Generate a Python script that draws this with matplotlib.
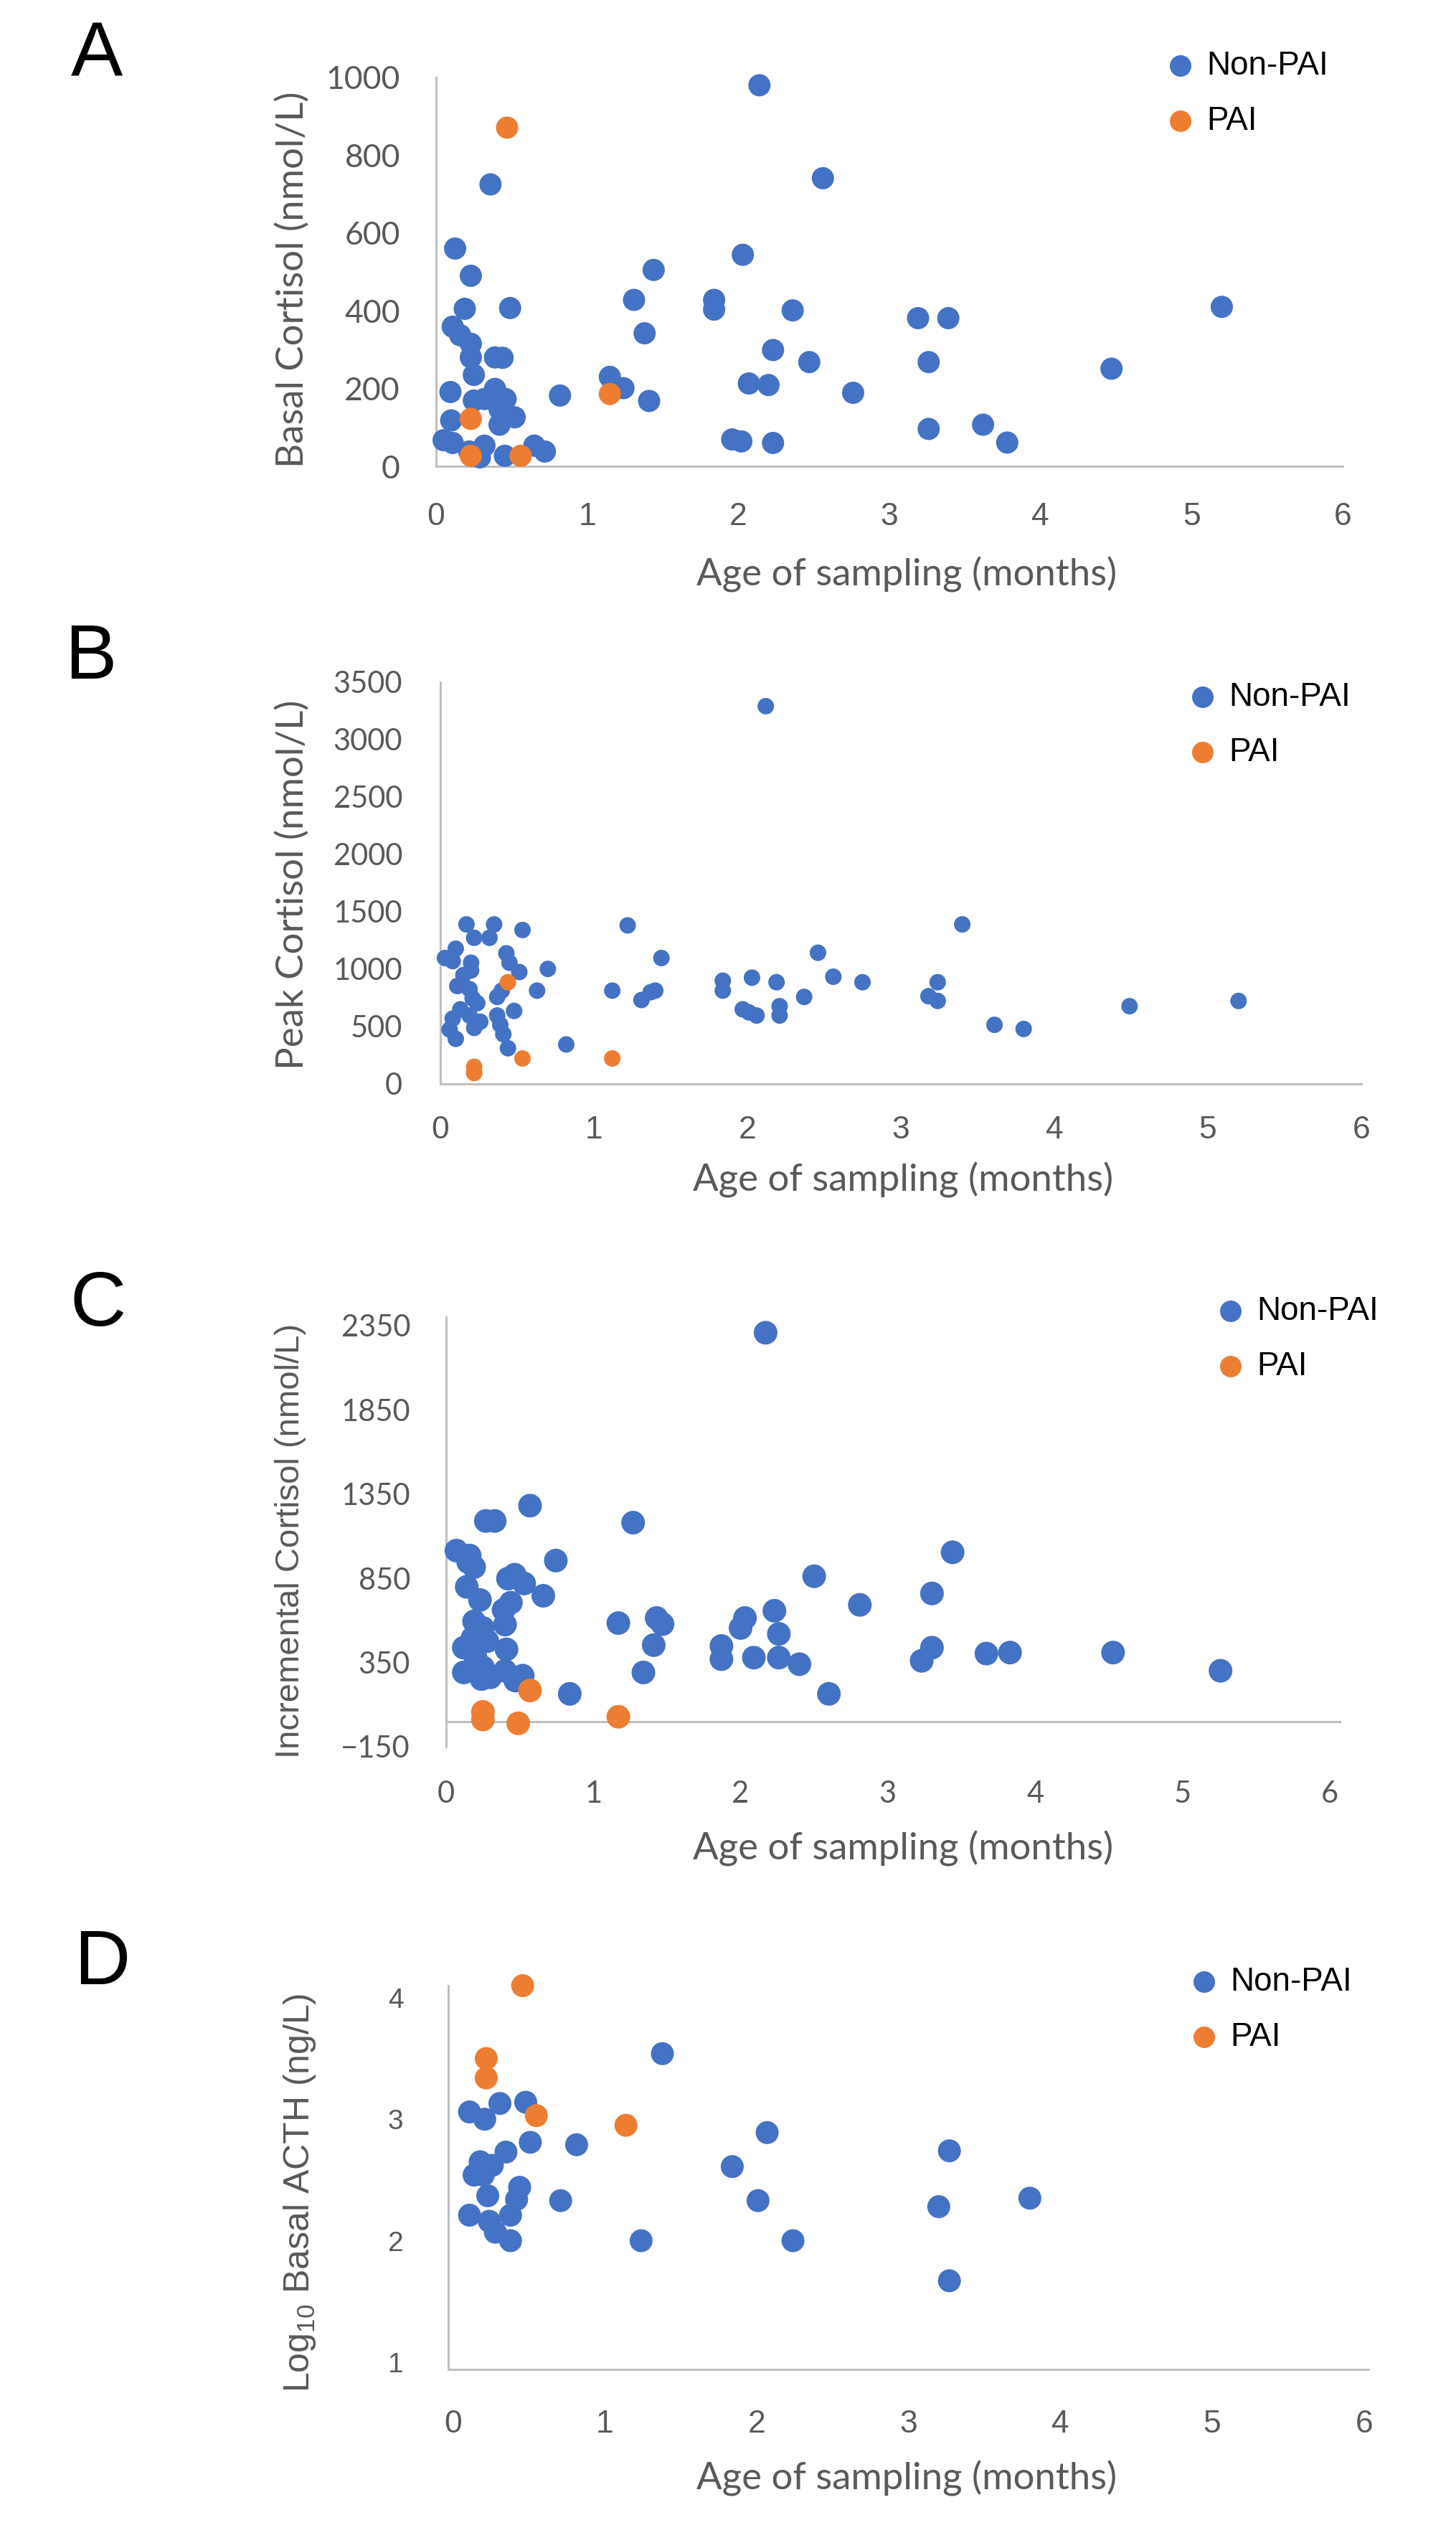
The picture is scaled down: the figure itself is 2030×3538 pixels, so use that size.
import matplotlib
matplotlib.use('Agg')
import matplotlib.pyplot as plt

# panel A - basal cortisol
a_x = [2.14, 0.36, 2.56, 0.126, 2.03, 0.23, 1.44, 1.31, 1.84, 1.84, 2.36, 0.19, 0.49, 0.11, 0.16,
       0.23, 0.23, 0.39, 0.44, 1.38, 2.23, 2.47, 0.25, 1.15, 1.24, 1.41, 0.82, 0.095, 2.07, 2.20,
       2.76, 0.25, 0.32, 0.39, 0.46, 0.42, 0.52, 0.42, 0.10, 0.05, 0.11, 0.32, 0.22, 0.29, 0.455,
       0.65, 0.72, 1.96, 2.02, 2.23, 3.19, 3.39, 5.20, 3.26, 4.47, 3.26, 3.62, 3.78]
a_y = [980, 725, 741, 560, 544, 490, 505, 428, 428, 403, 401, 405, 407, 359, 337,
       315, 280, 280, 279, 342, 299, 268, 235, 230, 201, 168, 182, 191, 213, 209,
       189, 169, 173, 199, 173, 147, 126, 107, 118, 67, 60, 53, 38, 23, 27,
       53, 38, 69, 64, 60, 381, 381, 410, 268, 251, 96, 107, 61]
a_pai_x = [0.47, 1.15, 0.23, 0.23, 0.56]
a_pai_y = [871, 186, 122, 27, 27]

# panel B - peak cortisol
b_x = [2.12, 0.17, 0.35, 0.535, 1.22, 0.22, 0.32, 0.10, 1.44, 2.46, 0.43, 0.45, 0.03, 0.08, 0.20,
       0.514, 0.70, 0.20, 0.15, 2.56, 2.03, 2.19, 2.75, 1.84, 1.84, 0.11, 0.19, 0.63, 1.12, 1.40,
       1.37, 1.31, 0.21, 0.24, 0.37, 0.40, 2.37, 0.48, 1.97, 2.01, 2.06, 2.21, 2.21, 0.08, 0.13,
       0.19, 0.26, 0.22, 0.06, 0.37, 0.39, 0.10, 0.41, 0.44, 0.82, 3.40, 3.24, 3.18, 3.24, 3.61,
       3.80, 4.49, 5.20]
b_y = [3291, 1390, 1390, 1341, 1381, 1273, 1273, 1178, 1097, 1143, 1138, 1056, 1097, 1070, 1056,
       975, 1002, 989, 948, 934, 926, 886, 886, 899, 813, 853, 826, 813, 813, 813,
       799, 731, 745, 704, 758, 813, 758, 636, 650, 623, 596, 677, 596, 569, 650,
       596, 542, 488, 474, 596, 515, 393, 433, 311, 344, 1390, 886, 764, 723, 515,
       479, 677, 723]
b_pai_x = [0.44, 0.535, 1.12, 0.22, 0.22]
b_pai_y = [886, 222, 222, 149, 95]

# panel C - incremental cortisol
c_x = [2.17, 0.57, 0.27, 0.33, 1.27, 0.07, 0.16, 0.19, 0.15, 0.745, 2.50, 0.466, 0.53, 0.42, 0.66,
       0.14, 0.23, 0.44, 0.39, 1.17, 1.43, 1.47, 2.03, 2.00, 2.23, 2.26, 1.41, 1.87, 1.87, 2.09,
       2.26, 2.40, 1.34, 2.60, 0.84, 0.19, 0.25, 0.18, 0.28, 0.12, 0.20, 0.25, 0.12, 0.24, 0.30,
       0.40, 0.41, 0.40, 0.47, 0.52, 3.44, 3.30, 2.81, 3.30, 3.23, 3.67, 3.83, 4.53, 5.26]
c_y = [2307, 1281, 1190, 1190, 1180, 1014, 985, 916, 946, 955, 862, 871, 819, 848, 746,
       799, 721, 705, 662, 584, 614, 578, 614, 555, 657, 520, 453, 448, 370, 379,
       379, 340, 291, 164, 164, 594, 555, 496, 477, 438, 379, 321, 291, 252, 262,
       575, 428, 301, 243, 272, 1004, 760, 692, 438, 360, 403, 409, 409, 301]
c_pai_x = [0.57, 0.25, 0.25, 0.49, 1.17]
c_pai_y = [184, 57, 12, -11, 28]

# panel D - log10 basal ACTH
d_x = [1.38, 0.31, 0.48, 0.11, 0.21, 2.07, 0.51, 0.815, 0.35, 0.18, 0.26, 1.84, 0.14, 0.20, 0.44,
       0.23, 0.42, 0.71, 2.01, 0.11, 0.38, 0.24, 0.28, 0.38, 1.24, 2.24, 3.27, 3.20, 3.80, 3.27]
d_y = [3.54, 3.13, 3.14, 3.06, 3.00, 2.89, 2.81, 2.79, 2.73, 2.65, 2.62, 2.61, 2.54, 2.54, 2.44,
       2.37, 2.34, 2.33, 2.33, 2.21, 2.21, 2.16, 2.07, 2.00, 2.00, 2.00, 2.74, 2.28, 2.35, 1.67]
d_pai_x = [0.46, 0.22, 0.22, 0.55, 1.14]
d_pai_y = [4.10, 3.50, 3.34, 3.03, 2.95]

x_ticks = [0, 1, 2, 3, 4, 5, 6]

BLUE = '#4472C4'
ORANGE = '#ED7D31'
GREY = '#595959'
AXIS = '#BFBFBF'
CAL = ['Lato', 'DejaVu Sans']
ARI = ['Liberation Sans', 'DejaVu Sans']

plt.rcParams['mathtext.fontset'] = 'custom'
plt.rcParams['mathtext.rm'] = 'Liberation Sans'

W, H = 2031, 3538
fig = plt.figure(figsize=(W / 100, H / 100), dpi=100)


def px_axes(l, r, t, b):
    return fig.add_axes([l / W, 1 - b / H, (r - l) / W, (b - t) / H])


def style(ax, yfont, ysize, ypad, xfont, xsize, xpad):
    for s in ['top', 'right']:
        ax.spines[s].set_visible(False)
    for s in ['left', 'bottom']:
        ax.spines[s].set_color(AXIS)
        ax.spines[s].set_linewidth(2.2)
    ax.tick_params(length=0, colors=GREY)
    ax.tick_params(axis='y', pad=ypad)
    ax.tick_params(axis='x', pad=xpad)
    for t in ax.get_yticklabels():
        t.set_family(yfont)
        t.set_fontsize(ysize)
    for t in ax.get_xticklabels():
        t.set_family(xfont)
        t.set_fontsize(xsize)


def legend(ax, x, y, px):
    ax.legend(loc='upper left', bbox_to_anchor=(x / W, 1 - y / H), bbox_transform=fig.transFigure,
              frameon=False, prop={'family': ARI, 'size': 33}, handlelength=0.7,
              handletextpad=0.45, labelspacing=0.72, borderpad=0, borderaxespad=0,
              scatterpoints=1, markerscale=30 / px)


def dots(ax, x, y, px, x2, y2):
    s = (px * 0.72) ** 2
    ax.scatter(x, y, s=s, c=BLUE, edgecolors='none', label='Non-PAI', zorder=3, clip_on=False)
    ax.scatter(x2, y2, s=s, c=ORANGE, edgecolors='none', label='PAI', zorder=4, clip_on=False)


# A
ax = px_axes(608, 1872, 108, 650)
dots(ax, a_x, a_y, 31, a_pai_x, a_pai_y)
ax.set_xlim(0, 6)
ax.set_ylim(0, 1000)
ax.set_xticks(x_ticks)
ax.set_yticks(range(0, 1001, 200))
style(ax, CAL, 32, 36, ARI, 32, 36)
legend(ax, 1630, 70, 31)

# B
ax = px_axes(614, 1898, 951, 1511)
dots(ax, b_x, b_y, 23, b_pai_x, b_pai_y)
ax.set_xlim(0, 6)
ax.set_ylim(0, 3500)
ax.set_xticks(x_ticks)
ax.set_yticks(range(0, 3501, 500))
style(ax, CAL, 30, 38, ARI, 32, 32)
legend(ax, 1661, 950, 23)

# C
ax = px_axes(622, 1870, 1836, 2435)
dots(ax, c_x, c_y, 33, c_pai_x, c_pai_y)
ax.set_xlim(0, 6.08)
ax.set_ylim(-150, 2400)
ax.set_xticks(x_ticks)
ax.set_yticks(range(-150, 2351, 500))
ax.axhline(0, color=AXIS, lw=2.2, zorder=1)
style(ax, CAL, 30, 36, CAL, 30, 34)
ax.spines['bottom'].set_visible(False)
legend(ax, 1700, 1806, 33)

# D
ax = px_axes(625, 1908, 2768, 3303)
dots(ax, d_x, d_y, 32, d_pai_x, d_pai_y)
ax.set_xlim(-0.03, 6.03)
ax.set_ylim(0.94, 4.10)
ax.set_xticks(x_ticks)
ax.set_yticks([1, 2, 3, 4])
style(ax, ARI, 28, 45, ARI, 32, 40)
legend(ax, 1663, 2741, 32)

# axis titles
for yc in [801, 1645, 2577, 3455]:
    xc = 1264 if yc in (801, 3455) else 1259
    fig.text(xc / W, 1 - yc / H, 'Age of sampling (months)', ha='center', va='center',
             family=CAL, fontsize=38, color=GREY)

fig.text(408 / W, 1 - 390 / H, 'Basal Cortisol (nmol/L)', rotation=90, ha='center', va='center',
         family=CAL, fontsize=38, color=GREY)
fig.text(408 / W, 1 - 1233 / H, 'Peak Cortisol (nmol/L)', rotation=90, ha='center', va='center',
         family=CAL, fontsize=38, color=GREY)
fig.text(405 / W, 1 - 2148 / H, 'Incremental Cortisol (nmol/L)', rotation=90, ha='center',
         va='center', family=ARI, fontsize=34, color=GREY)
fig.text(418 / W, 1 - 3057 / H, r'Log$_{\mathregular{10}}$ Basal ACTH (ng/L)', rotation=90,
         ha='center', va='center', family=ARI, fontsize=36, color=GREY)

# panel letters
for lab, (lx, ly) in zip('ABCD', [(135, 78), (126, 918), (137, 1820), (142, 2738)]):
    fig.text(lx / W, 1 - ly / H, lab, ha='center', va='center', family=ARI, fontsize=78,
             color='black')

fig.savefig('out.png', dpi=100)
